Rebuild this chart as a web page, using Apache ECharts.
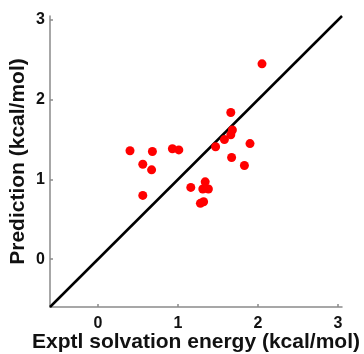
<!DOCTYPE html>
<html>
<head>
<meta charset="utf-8">
<script src="https://cdn.jsdelivr.net/npm/echarts@6/dist/echarts.min.js"></script>
<style>
  html, body { margin: 0; padding: 0; background: #fff; }
  #main { width: 364px; height: 354px; }
</style>
</head>
<body>
<div id="main"></div>
<script>
const exptl = [0.40, 0.68, 0.56, 0.67, 0.93, 1.01, 0.56, 1.16, 2.05, 1.66, 1.68,
               1.66, 1.58, 1.47, 1.90, 1.67, 1.83, 1.34, 1.31, 1.38, 1.28, 1.32];
const pred  = [1.36, 1.35, 1.19, 1.12, 1.385, 1.37, 0.80, 0.90, 2.45, 1.84, 1.62,
               1.56, 1.50, 1.41, 1.45, 1.275, 1.175, 0.97, 0.88, 0.88, 0.70, 0.72];
const ticks = [0, 1, 2, 3];
const axisMin = -0.6;
const axisMax = 3.05;
const diag = [[axisMin, axisMin], [axisMax, axisMax]];

const points = exptl.map((x, i) => [x, pred[i]]);

const font = 'Liberation Sans, Arial, sans-serif';
const axisLineStyle = { color: '#8a8a8a', width: 1.5 };

function makeAxis(name, isY) {
  return {
    type: 'value',
    min: axisMin,
    max: axisMax,
    name: name,
    nameLocation: 'middle',
    nameGap: isY ? 21 : 25,
    nameMoveOverlap: false,
    nameTextStyle: { color: '#111', fontSize: 21, fontWeight: 'bold', fontFamily: font },
    axisLine: { show: true, onZero: false, lineStyle: axisLineStyle },
    axisTick: { show: true, inside: true, length: 3, lineStyle: axisLineStyle, customValues: ticks },
    axisLabel: {
      color: '#111', fontSize: 16, fontWeight: 'bold', fontFamily: font,
      margin: isY ? 5 : 9, customValues: ticks
    },
    splitLine: { show: false }
  };
}

const chart = echarts.init(document.getElementById('main'));
chart.setOption({
  animation: false,
  grid: { left: 50, right: 22, top: 16, bottom: 47, containLabel: false, outerBoundsMode: 'none' },
  xAxis: makeAxis('Exptl solvation energy (kcal/mol)', false),
  yAxis: makeAxis('Prediction (kcal/mol)', true),
  series: [
    {
      type: 'line',
      data: diag,
      showSymbol: false,
      lineStyle: { color: '#000', width: 2.5 },
      z: 2
    },
    {
      type: 'scatter',
      data: points,
      symbolSize: 9,
      itemStyle: { color: '#ff0000', opacity: 1 },
      z: 3
    }
  ]
});
</script>
</body>
</html>
